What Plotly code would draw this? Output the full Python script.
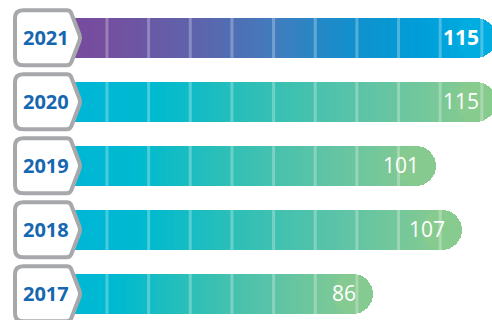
import numpy as np
import plotly.graph_objects as go

# ---- data ----
years = ["2021", "2020", "2019", "2018", "2017"]
values = [115, 115, 101, 107, 86]
bold_flags = [True, False, False, False, False]

# ---- styles ----
purple_stops = [(0.0, "#7d449c"), (0.2, "#744f9f"), (0.4, "#5b66ad"), (0.55, "#3f7dbe"),
                (0.7, "#1190cc"), (0.85, "#009fd9"), (1.0, "#00b1e3")]
teal_stops = [(0.0, "#00b2dd"), (0.3, "#00bacf"), (0.5, "#2ebfb6"), (0.7, "#58c3a8"),
              (0.85, "#74c79b"), (1.0, "#8fcc8a")]
gradients = [purple_stops, teal_stops, teal_stops, teal_stops, teal_stops]

X_RANGE = [-2.0, 114.1]
PX_PER_UNIT = 492 / (X_RANGE[1] - X_RANGE[0])
CAP_R_PX = 20
CAP_R = CAP_R_PX / PX_PER_UNIT
BAR_W = 0.625
STEP = 1.0
HIDDEN_START = 3.0   # bars start under the badges
FONT = "Open Sans"


def hex2rgb(h):
    h = h.lstrip("#")
    return [int(h[i:i + 2], 16) for i in (0, 2, 4)]


def color_at(stops, f):
    f = min(max(f, 0.0), 1.0)
    for (f0, c0), (f1, c1) in zip(stops[:-1], stops[1:]):
        if f0 <= f <= f1:
            t = (f - f0) / (f1 - f0) if f1 > f0 else 0
            a, b = hex2rgb(c0), hex2rgb(c1)
            r = [round(a[i] + (b[i] - a[i]) * t) for i in range(3)]
            return "rgb(%d,%d,%d)" % tuple(r)
    return stops[-1][1]


def to_paper(v):
    return (v - X_RANGE[0]) / (X_RANGE[1] - X_RANGE[0])


fig = go.Figure()

# gradient body: overlapping square segments running to the middle of the rounded cap
seg_y, seg_base, seg_len, seg_col = [], [], [], []
cap_y, cap_base, cap_len, cap_col = [], [], [], []
for yr, v, st in zip(years, values, gradients):
    body_end = v - CAP_R
    for b in np.arange(HIDDEN_START, body_end - 0.5, STEP):
        seg_y.append(yr)
        seg_base.append(b)
        seg_len.append(body_end - b)
        seg_col.append(color_at(st, b / v))
    cap_y.append(yr)
    cap_base.append(v - 2 * CAP_R)
    cap_len.append(2 * CAP_R)
    cap_col.append(color_at(st, (v - CAP_R) / v))

fig.add_trace(go.Bar(y=seg_y, x=seg_len, base=seg_base, orientation="h",
                     width=BAR_W, marker=dict(color=seg_col, line=dict(width=0)),
                     hoverinfo="skip", showlegend=False))
fig.add_trace(go.Bar(y=cap_y, x=cap_len, base=cap_base, orientation="h",
                     width=BAR_W, marker=dict(color=cap_col, line=dict(width=0),
                                              cornerradius=CAP_R_PX),
                     hoverinfo="skip", showlegend=False))

shapes = []
# translucent white stripes across bars
tick0, dtick = 23.24, 9.83
k = 0
while tick0 + k * dtick < X_RANGE[1]:
    xv = tick0 + k * dtick
    shapes.append(dict(type="line", xref="x", yref="paper", x0=xv, x1=xv, y0=0, y1=1,
                       line=dict(color="rgba(255,255,255,0.28)", width=3), layer="above"))
    k += 1

# year badges (pixel-sized path anchored at each category)
badge_path = ("M 23,-27.5 L 67,-27.5 Q 70,-27.5 71.3,-24.5 L 79.5,-3 Q 80.5,0 79.5,3 "
              "L 71.3,24.5 Q 70,27.5 67,27.5 L 23,27.5 Q 15,27.5 15,19.5 L 15,-19.5 "
              "Q 15,-27.5 23,-27.5 Z")
for i, yr in enumerate(years):
    shapes.append(dict(type="path", xref="x", yref="y",
                       xsizemode="pixel", ysizemode="pixel",
                       xanchor=X_RANGE[0], yanchor=i,
                       path=badge_path, fillcolor="white",
                       line=dict(color="#a7a8ab", width=4), layer="above"))

annotations = []
for i, (yr, v, bold) in enumerate(zip(years, values, bold_flags)):
    annotations.append(dict(x=45.5 / 492, xref="paper", y=i, yref="y", text="<b>%s</b>" % yr,
                            showarrow=False, xanchor="center", yanchor="middle",
                            font=dict(family=FONT, size=20, color="#1567b1")))
    txt = "<b>%d</b>" % v if bold else "%d" % v
    annotations.append(dict(x=to_paper(v), xref="paper", y=i, yref="y", text=txt,
                            showarrow=False, xanchor="right", yanchor="middle",
                            xshift=-15, yshift=1,
                            font=dict(family=FONT, size=21, color="white")))

fig.update_layout(
    width=492, height=320, margin=dict(l=0, r=0, t=0, b=0),
    paper_bgcolor="white", plot_bgcolor="white",
    barmode="overlay", bargap=0,
    shapes=shapes, annotations=annotations,
    xaxis=dict(range=X_RANGE, showgrid=False, zeroline=False, showticklabels=False,
               showline=False, fixedrange=True),
    yaxis=dict(type="category", categoryorder="array", categoryarray=years,
               range=[4.41, -0.59], showgrid=False, zeroline=False,
               showticklabels=False, showline=False, fixedrange=True),
)

fig.write_html("out.html")
